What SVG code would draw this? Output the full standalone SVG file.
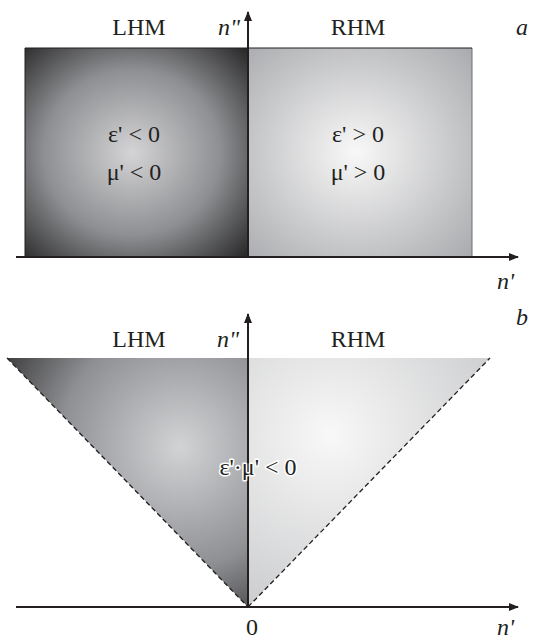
<svg xmlns="http://www.w3.org/2000/svg" width="533" height="642" viewBox="0 0 533 642">
<style>
.t{font-family:"Liberation Serif","Times New Roman",serif;font-size:24px;fill:#231f20}
.i{font-style:italic}
.ax{stroke:#231f20;stroke-width:2;fill:none}
.dash{stroke:#231f20;stroke-width:1.3;stroke-dasharray:5,3;fill:none}
</style>
<defs>
<marker id="arr" viewBox="0 0 10 8" refX="9" refY="4" markerWidth="10" markerHeight="8" markerUnits="userSpaceOnUse" orient="auto">
<path d="M0,0 L10,4 L0,8 Z" fill="#231f20"/>
</marker>
<radialGradient id="gL" cx="0.48" cy="0.5" r="0.72">
<stop offset="0" stop-color="#d4d4d6"/>
<stop offset="0.55" stop-color="#8e8f92"/>
<stop offset="1" stop-color="#262627"/>
</radialGradient>
<radialGradient id="gR" cx="0.48" cy="0.5" r="0.72">
<stop offset="0" stop-color="#f8f8f8"/>
<stop offset="1" stop-color="#a9aaad"/>
</radialGradient>
<radialGradient id="gL2" gradientUnits="userSpaceOnUse" cx="180" cy="447" r="200">
<stop offset="0" stop-color="#d2d3d5"/>
<stop offset="0.6" stop-color="#8f9093"/>
<stop offset="1" stop-color="#3a3a3c"/>
</radialGradient>
<radialGradient id="gR2" gradientUnits="userSpaceOnUse" cx="330" cy="435" r="220">
<stop offset="0" stop-color="#f8f8f8"/>
<stop offset="1" stop-color="#c4c5c7"/>
</radialGradient>
</defs>

<g id="panel-a">
<g id="lhm-a">
<rect x="25" y="48" width="223" height="209" fill="url(#gL)"/>
<line x1="25" y1="48" x2="25" y2="257" stroke="#231f20" stroke-width="1"/>
<text class="t" x="139" y="35" text-anchor="middle">LHM</text>
<text class="t" x="134" y="142" text-anchor="middle">ε' &lt; 0</text>
<text class="t" x="134" y="180" text-anchor="middle">μ' &lt; 0</text>
</g>
<g id="rhm-a">
<rect x="248" y="48" width="224" height="209" fill="url(#gR)"/>
<line x1="472" y1="48" x2="472" y2="257" stroke="#6d6e71" stroke-width="1"/>
<text class="t" x="358" y="35" text-anchor="middle">RHM</text>
<text class="t" x="358" y="142" text-anchor="middle">ε' &gt; 0</text>
<text class="t" x="358" y="180" text-anchor="middle">μ' &gt; 0</text>
</g>
<line x1="25" y1="48" x2="472" y2="48" stroke="#231f20" stroke-width="1"/>
<text class="t i" x="218" y="35">n"</text>
<text class="t i" x="516" y="35">a</text>
<text class="t i" x="497" y="289">n'</text>
</g>

<g id="panel-b">
<g id="lhm-b">
<polygon points="7,358 248,358 248,607" fill="url(#gL2)"/>
<text class="t" x="139" y="347" text-anchor="middle">LHM</text>
</g>
<g id="rhm-b">
<polygon points="248,358 490,358 248,607" fill="url(#gR2)"/>
<text class="t" x="358" y="347" text-anchor="middle">RHM</text>
</g>
<text class="t i" x="217" y="347">n"</text>
<text class="t i" x="516" y="325">b</text>
<text class="t" x="252" y="635" text-anchor="middle">0</text>
<text class="t i" x="497" y="635">n'</text>
</g>

<g id="connectors">
<line class="ax" x1="16" y1="257" x2="518" y2="257" marker-end="url(#arr)"/>
<line class="ax" x1="248" y1="257" x2="248" y2="12" marker-end="url(#arr)"/>
<line class="dash" x1="7" y1="358" x2="248" y2="607"/>
<line class="dash" x1="248" y1="607" x2="490" y2="358"/>
<line class="ax" x1="16" y1="607" x2="518" y2="607" marker-end="url(#arr)"/>
<line class="ax" x1="248" y1="607" x2="248" y2="314" marker-end="url(#arr)"/>
</g>
<text class="t" x="258" y="475" text-anchor="middle" stroke="#ffffff" stroke-width="3" stroke-linejoin="round" paint-order="stroke">ε'·μ' &lt; 0</text>
</svg>
